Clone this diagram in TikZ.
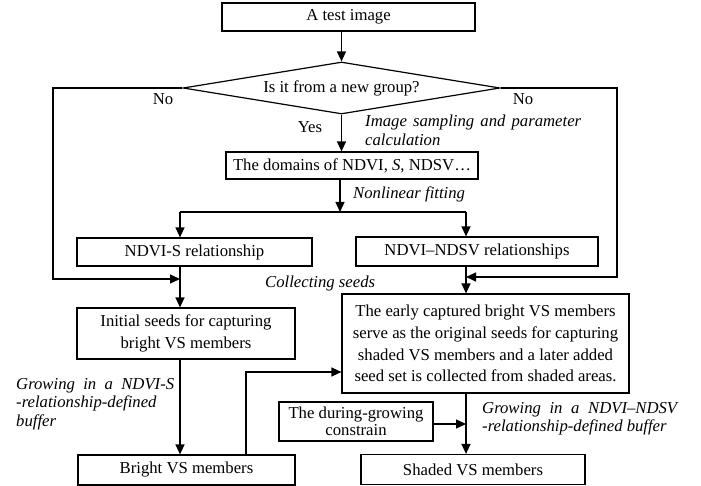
\documentclass[tikz,border=0pt]{standalone}
\usepackage{fontspec}
\setmainfont{Liberation Serif}
\usetikzlibrary{shapes.geometric,arrows.meta}
\begin{document}
\begin{tikzpicture}[x=1pt,y=-1pt,
  box/.style={draw, line width=1.2pt, inner sep=0pt, align=center, font=\fontsize{16.7}{21.7}\selectfont},
  arr/.style={line width=1.3pt, -{Triangle[length=10pt,width=9pt]}},
  ln/.style={line width=1.3pt},
  lab/.style={inner sep=0pt, font=\fontsize{16.7}{19}\selectfont},
  ital/.style={inner sep=0pt, font=\fontsize{16.7}{18.5}\selectfont\itshape, align=left}]
\useasboundingbox (0,0) rectangle (701,486);

% boxes
\node[box, minimum width=253pt, minimum height=28pt] (test) at (348.5,17) {A test image};
\node[draw, diamond, line width=1.2pt, minimum width=317pt, minimum height=52pt, inner sep=0pt, aspect=6,
      font=\fontsize{16.7}{19}\selectfont] (dia) at (341.5,88) {Is it from a new group?};
\node[box, minimum width=252pt, minimum height=27pt] (dom) at (352,165.5) {The domains of NDVI, \textit{S}, NDSV…};
\node[box, minimum width=235pt, minimum height=28pt] (nds) at (194.5,252) {NDVI-S relationship};
\node[box, minimum width=242pt, minimum height=29pt] (ndsv) at (477,251.5) {NDVI–NDSV relationships};
\node[box, minimum width=218pt, minimum height=51pt] (init) at (186,333.5) {Initial seeds for capturing\\bright VS members};
\node[box, minimum width=287pt, minimum height=99pt] (early) at (485.5,343.5) {The early captured bright VS members\\serve as the original seeds for capturing\\shaded VS members and a later added\\seed set is collected from shaded areas.};
\node[box, minimum width=154pt, minimum height=39pt, font=\fontsize{16.7}{17}\selectfont] (during) at (356,421.5) {The during-growing\\constrain};
\node[box, minimum width=217pt, minimum height=30pt] (bright) at (186.5,470) {Bright VS members};
\node[box, minimum width=224pt, minimum height=30pt] (shaded) at (473,469.5) {Shaded VS members};

% labels
\node[lab] (no1) at (163,99) {No};
\node[lab] (no2) at (523,99) {No};
\node[lab] (yes) at (310,127) {Yes};
\node[ital, anchor=north west] (isamp) at (365,115) {\makebox[216pt][s]{Image sampling and parameter}\\calculation};
\node[ital, anchor=west] (ifit) at (353,194) {Nonlinear fitting};
\node[ital, anchor=west] (iseed) at (265,283) {Collecting seeds};
\node[ital, anchor=north west] (igrow1) at (16,378) {\makebox[158pt][s]{Growing in a NDVI-S}\\-relationship-defined\\buffer};
\node[ital, anchor=north west] (igrow2) at (482,402) {\makebox[195pt][s]{Growing in a NDVI–NDSV}\\-relationship-defined buffer};

% coordinates
\coordinate (L) at (180,212);
\coordinate (R) at (466,212);
\coordinate (split) at (340,212);
\coordinate (lno) at (53,88);
\coordinate (rno) at (617,88);
\coordinate (lj) at (180,279);
\coordinate (rj) at (466,277);
\coordinate (bj) at (246,372);

% connectors
\draw[arr] (test.south -| dia.north) -- (dia.north);
\draw[arr] (dia.south) -- (dia.south |- dom.north);
\draw[arr] (dom.south -| split) -- (split);
\draw[ln] (L) -- (R);
\draw[arr] (L) -- (nds.north -| L);
\draw[arr] (R) -- (ndsv.north -| R);
\draw[arr] (dia.west) -- (lno) |- (lj);
\draw[arr] (dia.east) -- (rno) |- (rj);
\draw[arr] (nds.south -| L) -- (init.north -| L);
\draw[arr] (ndsv.south -| R) -- (early.north -| R);
\draw[arr] (init.south -| L) -- (bright.north -| L);
\draw[arr] (bright.north -| bj) -- (bj) -- (bj -| early.west);
\draw[arr] (early.south -| R) -- (shaded.north -| R);
\draw[arr] ([yshift=-2.5pt]during.east) -- ([yshift=-2.5pt]during.east -| R);
\end{tikzpicture}
\end{document}
